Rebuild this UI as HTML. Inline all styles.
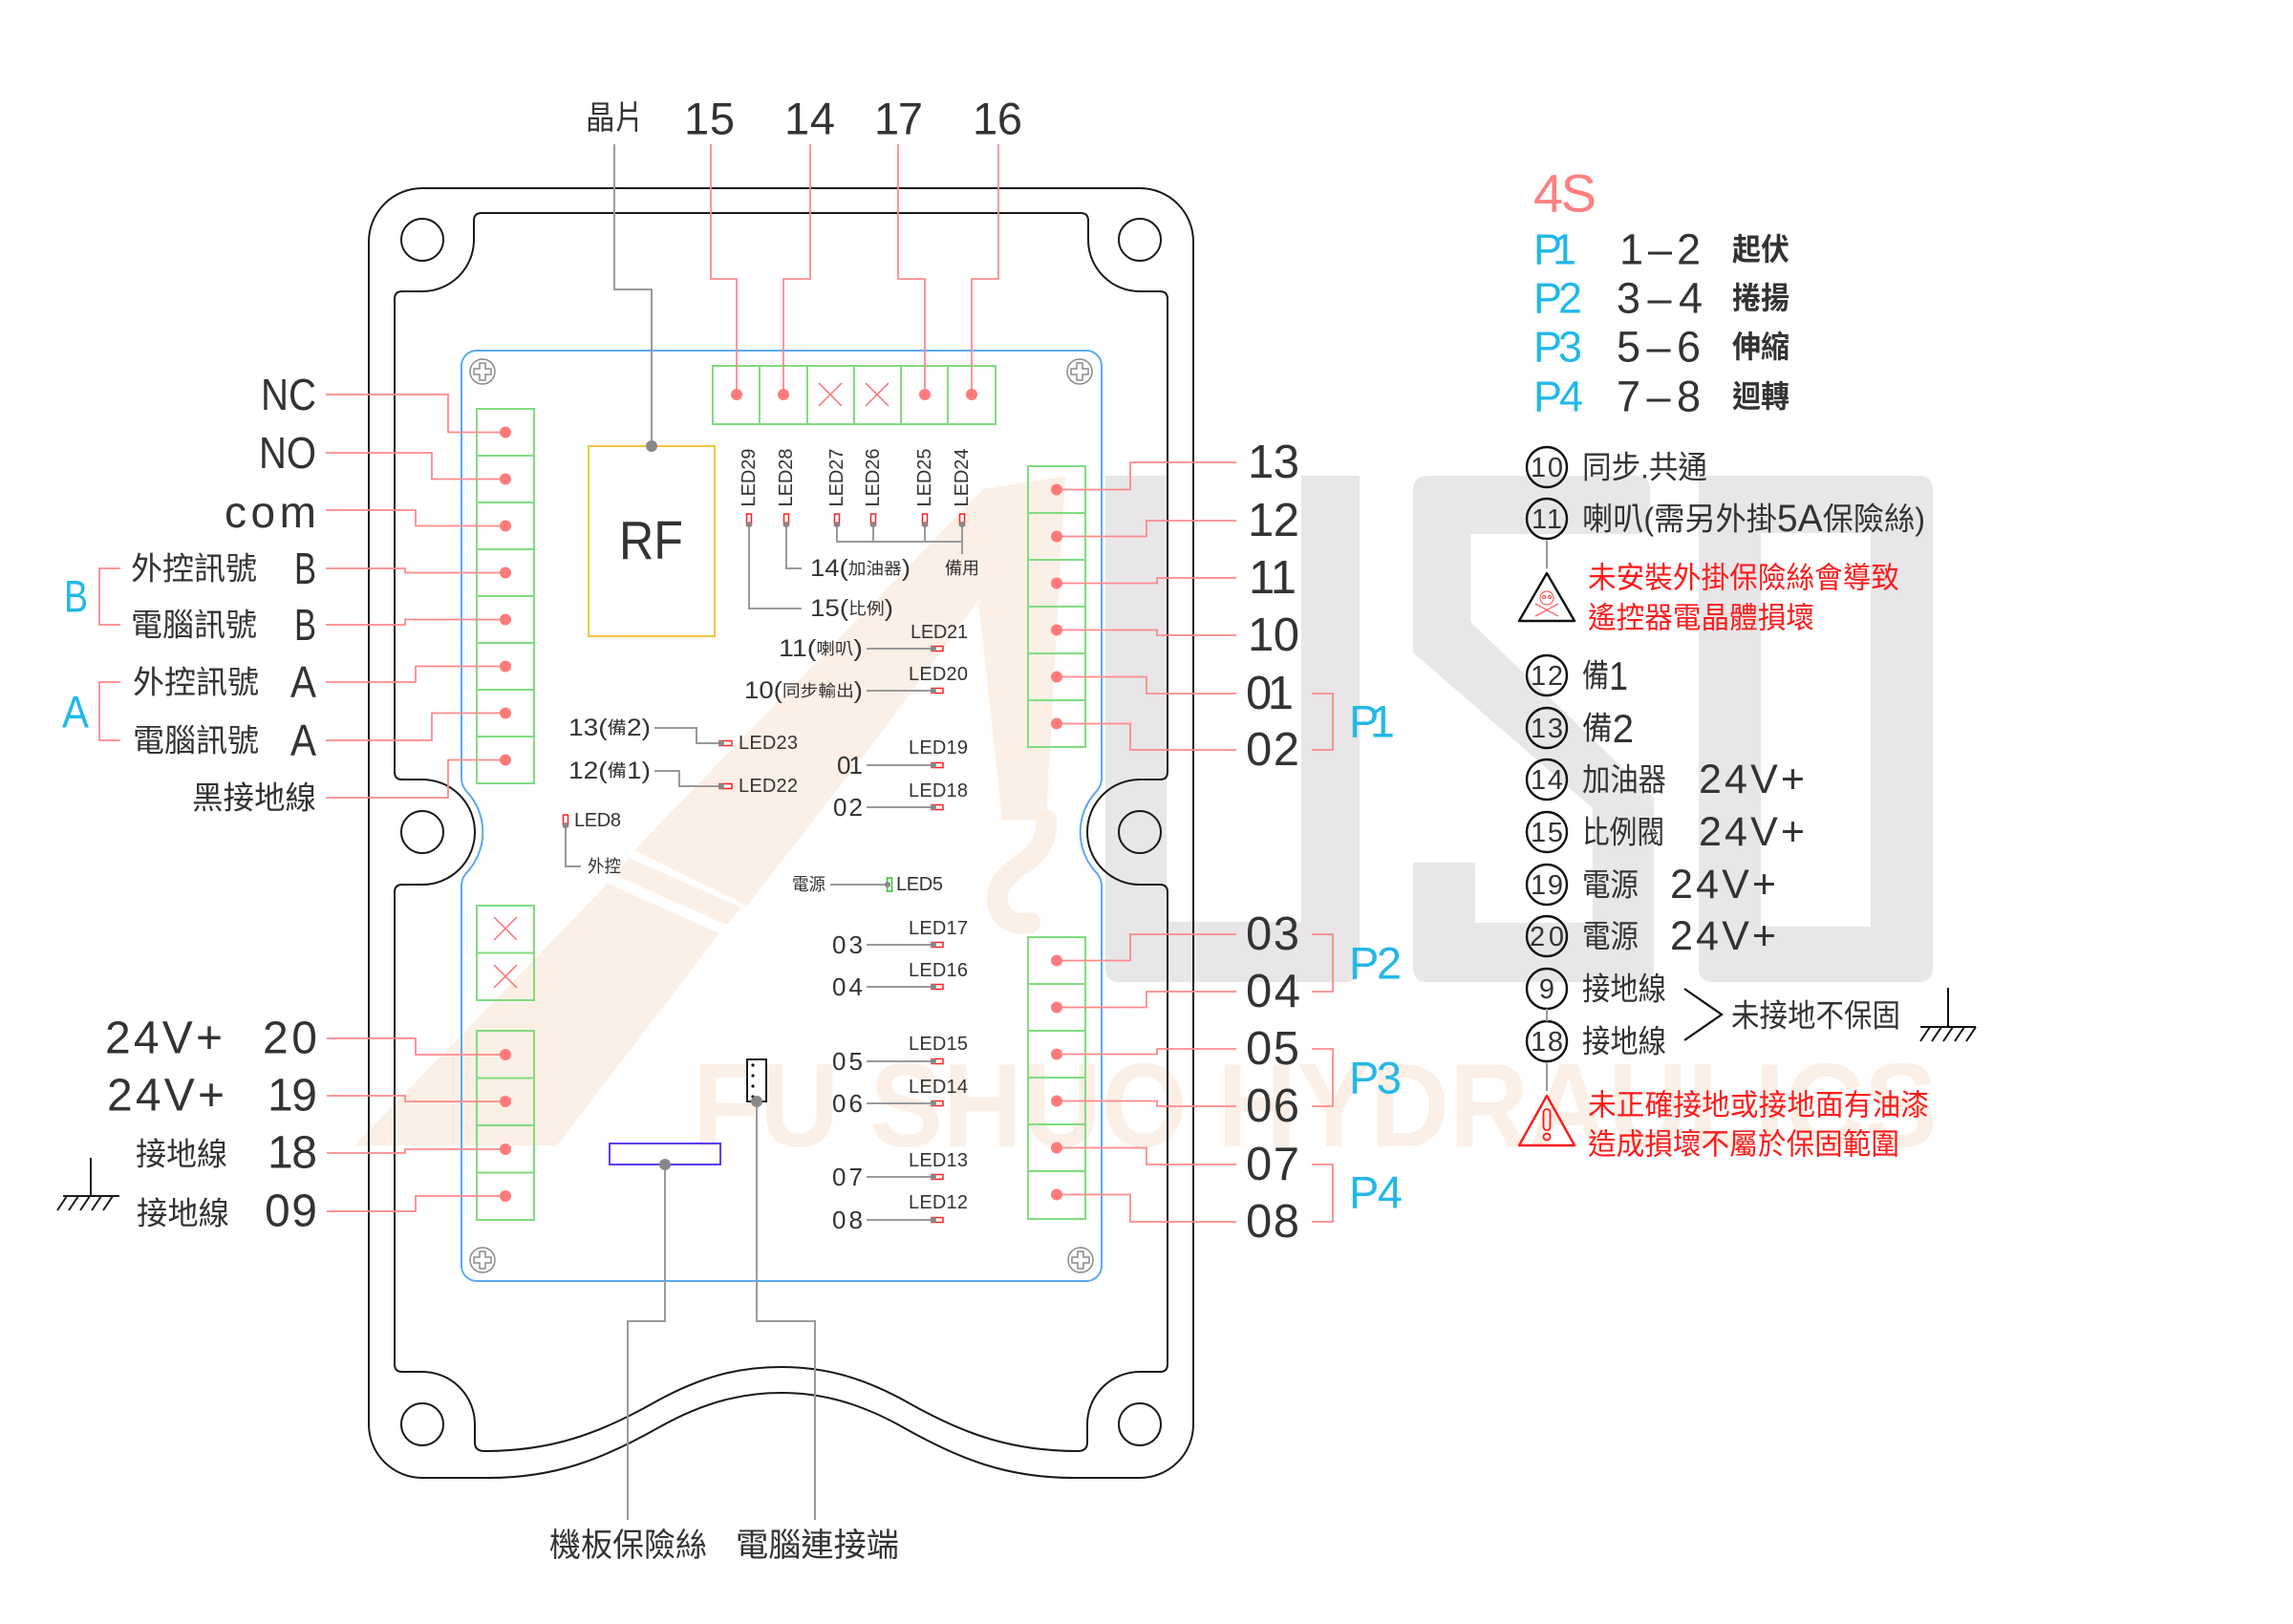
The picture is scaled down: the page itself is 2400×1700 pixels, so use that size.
<!DOCTYPE html>
<html><head><meta charset="utf-8"><style>
html,body{margin:0;padding:0;background:#fff;}
svg{display:block;}
text{font-family:"Liberation Sans","Noto Sans CJK TC",sans-serif;fill:#333;dominant-baseline:central;}
.r{stroke:#ff8a8a;stroke-width:1.8;fill:none;}
.g{stroke:#80dc80;stroke-width:2;fill:none;}
.k{stroke:#1a1a1a;stroke-width:2;fill:none;}
.gy{stroke:#9a9a9a;stroke-width:2;fill:none;}
.dot{fill:#ff7b7b;}
.gd{fill:#888;}
.x{stroke:#ff7070;stroke-width:1.5;}
.led{fill:#fff;stroke:#ff2020;stroke-width:1.5;}
.bl{fill:#22b8e8;}
.red{fill:#ff1a1a;}
</style></head><body>
<svg width="2400" height="1700" viewBox="0 0 2400 1700" xmlns="http://www.w3.org/2000/svg">
<rect width="2400" height="1700" fill="#fff"/>

<!-- gray watermark -->
<g fill="#e8e6e8">
<path d="M1157,498 H1221 V965 H1362 V498 H1423 V1013 Q1423,1028 1408,1028 H1172 Q1157,1028 1157,1013 Z"/>
<path d="M1494,498 H1712 Q1727,498 1727,513 V544 Q1727,559 1712,559 H1539 V651 L1731,835 V1013 Q1731,1028 1716,1028 H1494 Q1479,1028 1479,1013 V903 H1544 V966 H1667 V846 L1479,683 V513 Q1479,498 1494,498 Z"/>
<path fill-rule="evenodd" d="M1778,498 H2008 Q2023,498 2023,513 V1013 Q2023,1028 2008,1028 H1793 Q1778,1028 1778,1013 Z M1843,558 H1958 V970 H1843 Z"/>
</g>

<!-- peach watermark -->
<g fill="#fcefe5">
<polygon points="371,1199 636,925 753,977 583,1199"/>
<polygon points="644,916 760,968 776,950 658,898"/>
<polygon points="664,890 1029,512 1115,498 1095,858 1049,858 1024,629 917,774 782,948"/>
<text x="725" y="1200" font-size="124" font-weight="bold" textLength="1303" lengthAdjust="spacingAndGlyphs" style="fill:#fcefe5;dominant-baseline:alphabetic">FU SHUO HYDRAULICS</text>
</g>
<path d="M1095,858 C1097,900 1062,902 1048,925 C1036,946 1050,972 1078,966" stroke="#fcefe5" stroke-width="22" fill="none" stroke-linecap="round"/>

<!-- outer board -->
<path class="k" d="M442,197 H1193 A56,56 0 0 1 1249,253 V1491 A56,56 0 0 1 1193,1547 H1123 C1055,1547 1005,1528 945,1494 C895,1466 855,1458 817.5,1458 C780,1458 740,1466 690,1494 C630,1528 580,1547 512,1547 H442 A56,56 0 0 1 386,1491 V253 A56,56 0 0 1 442,197 Z"/>
<path class="k" d="M504,223 H1131 Q1139,223 1139,231 V251 A54,54 0 0 0 1193,305 H1214 Q1222,305 1222,313 V808 Q1222,816 1214,816 H1193 A55,55 0 0 0 1193,926 H1214 Q1222,926 1222,934 V1428 Q1222,1436 1214,1436 H1193 A55,55 0 0 0 1138,1491 V1510 Q1138,1519 1128,1519 C1060,1519 1010,1502 950,1468 C900,1440 860,1431 817.5,1431 C775,1431 735,1440 685,1468 C625,1502 575,1519 507,1519 Q497,1519 497,1510 V1491 A55,55 0 0 0 442,1436 H421 Q413,1436 413,1428 V934 Q413,926 421,926 H442 A55,55 0 0 0 442,816 H421 Q413,816 413,808 V313 Q413,305 421,305 H442 A54,54 0 0 0 496,251 V231 Q496,223 504,223 Z"/>
<g class="k">
<circle cx="442" cy="251" r="22"/><circle cx="1193" cy="251" r="22"/>
<circle cx="442" cy="871" r="22"/><circle cx="1193" cy="871" r="22"/>
<circle cx="442" cy="1491" r="22"/><circle cx="1193" cy="1491" r="22"/>
</g>

<!-- blue board -->
<path d="M499,367 H1137 A16,16 0 0 1 1153,383 V815 Q1153,822 1148,828 A62,62 0 0 0 1148,914 Q1153,920 1153,927 V1325 A16,16 0 0 1 1137,1341 H499 A16,16 0 0 1 483,1325 V927 Q483,920 488,914 A62,62 0 0 0 488,828 Q483,822 483,815 V383 A16,16 0 0 1 499,367 Z" fill="none" stroke="#5aa9f5" stroke-width="2"/>
<g fill="none" stroke="#8a8a8a" stroke-width="1.5">
<g transform="translate(505,389)"><circle r="13"/><path d="M-3,-9 h6 v6 h6 v6 h-6 v6 h-6 v-6 h-6 v-6 h6 z"/></g>
<g transform="translate(1130,389)"><circle r="13"/><path d="M-3,-9 h6 v6 h6 v6 h-6 v6 h-6 v-6 h-6 v-6 h6 z"/></g>
<g transform="translate(505,1319)"><circle r="13"/><path d="M-3,-9 h6 v6 h6 v6 h-6 v6 h-6 v-6 h-6 v-6 h6 z"/></g>
<g transform="translate(1131,1319)"><circle r="13"/><path d="M-3,-9 h6 v6 h6 v6 h-6 v6 h-6 v-6 h-6 v-6 h6 z"/></g>
</g>

<!-- green connectors -->
<g class="g">
<rect x="499" y="428" width="60" height="392"/>
<path d="M499,477H559M499,526H559M499,575H559M499,624H559M499,673H559M499,722H559M499,771H559"/>
<rect x="499" y="948" width="60" height="99"/><path d="M499,997.5H559"/>
<rect x="499" y="1079" width="60" height="198"/><path d="M499,1128.5H559M499,1178H559M499,1227.5H559"/>
<rect x="746" y="383" width="296" height="61"/><path d="M795,383V444M845,383V444M894,383V444M943,383V444M992,383V444"/>
<rect x="1076" y="488" width="60" height="294"/><path d="M1076,537H1136M1076,586H1136M1076,635H1136M1076,684H1136M1076,733H1136"/>
<rect x="1076" y="981" width="60" height="295"/><path d="M1076,1030H1136M1076,1079H1136M1076,1128H1136M1076,1177H1136M1076,1226H1136"/>
</g>
<g class="x">
<path d="M517,960L541,984M541,960L517,984M517,1010L541,1034M541,1010L517,1034"/>
<path d="M857,401L881,425M881,401L857,425M906,401L930,425M930,401L906,425"/>
</g>

<!-- RF and parts -->
<rect x="616" y="467" width="132" height="199" fill="none" stroke="#f5c542" stroke-width="2"/>
<text x="648" y="566" font-size="57" textLength="67" lengthAdjust="spacingAndGlyphs">RF</text>
<rect x="638" y="1197" width="116" height="22" fill="none" stroke="#5a3cf0" stroke-width="2"/>
<rect x="782" y="1109" width="20" height="44" fill="#fff" stroke="#1a1a1a" stroke-width="2"/>
<g fill="#111"><circle cx="788" cy="1115" r="1.6"/><circle cx="788" cy="1126" r="1.6"/><circle cx="788" cy="1137" r="1.6"/><circle cx="788" cy="1148" r="1.6"/></g>

<!-- gray connector lines -->
<g class="gy">
<path d="M643,151V303H682V467"/>
<path d="M696,1219V1383H657V1591"/>
<path d="M792,1153V1383H853V1591"/>
<path d="M784,550V637H839"/>
<path d="M823,550V595H839"/>
<path d="M876,550V567H1007M914,550V567M968,550V567M1007,550V580"/>
<path d="M907,679H978M907,723H978M907,801H978M907,845H978M907,989H978M907,1033H978M907,1111H978M907,1155H978M907,1232H978M907,1277H978"/>
<path d="M685,762H729V778H756M685,807H711V823H756"/>
<path d="M592,865V907H608"/>
<path d="M869,926H928"/>
</g>
<g class="gd">
<circle cx="682" cy="467" r="6"/><circle cx="696" cy="1219" r="6"/><circle cx="792" cy="1153" r="6"/>
</g>

<!-- LEDs -->
<g class="led">
<rect x="781.5" y="538" width="5" height="12"/><rect x="820.5" y="538" width="5" height="12"/>
<rect x="873.5" y="538" width="5" height="12"/><rect x="911.5" y="538" width="5" height="12"/>
<rect x="965.5" y="538" width="5" height="12"/><rect x="1004.5" y="538" width="5" height="12"/>
<rect x="589.5" y="853" width="5" height="12"/>
<rect x="975" y="676.5" width="12" height="5"/><rect x="975" y="720.5" width="12" height="5"/>
<rect x="975" y="798.5" width="12" height="5"/><rect x="975" y="842.5" width="12" height="5"/>
<rect x="975" y="986.5" width="12" height="5"/><rect x="975" y="1030.5" width="12" height="5"/>
<rect x="975" y="1108.5" width="12" height="5"/><rect x="975" y="1152.5" width="12" height="5"/>
<rect x="975" y="1229.5" width="12" height="5"/><rect x="975" y="1274.5" width="12" height="5"/>
<rect x="753" y="775.5" width="13" height="5"/><rect x="753" y="820.5" width="13" height="5"/>
</g>
<rect x="928.5" y="919" width="5" height="14" fill="#fff" stroke="#22cc22" stroke-width="1.5"/>
<g class="gd">
<circle cx="784" cy="549" r="3"/><circle cx="823" cy="549" r="3"/><circle cx="876" cy="549" r="3"/><circle cx="914" cy="549" r="3"/><circle cx="968" cy="549" r="3"/><circle cx="1007" cy="549" r="3"/>
<circle cx="592" cy="864" r="3"/>
<circle cx="977" cy="679" r="3"/><circle cx="977" cy="723" r="3"/><circle cx="977" cy="801" r="3"/><circle cx="977" cy="845" r="3"/><circle cx="977" cy="989" r="3"/><circle cx="977" cy="1033" r="3"/><circle cx="977" cy="1111" r="3"/><circle cx="977" cy="1155" r="3"/><circle cx="977" cy="1232" r="3"/><circle cx="977" cy="1277" r="3"/>
<circle cx="755" cy="778" r="3"/><circle cx="755" cy="823" r="3"/><circle cx="929" cy="926" r="3"/>
</g>

<!-- LED labels -->
<g font-size="20">
<text transform="translate(784,500) rotate(-90)" text-anchor="middle" textLength="61" lengthAdjust="spacingAndGlyphs">LED29</text>
<text transform="translate(823,500) rotate(-90)" text-anchor="middle" textLength="61" lengthAdjust="spacingAndGlyphs">LED28</text>
<text transform="translate(876,500) rotate(-90)" text-anchor="middle" textLength="61" lengthAdjust="spacingAndGlyphs">LED27</text>
<text transform="translate(914,500) rotate(-90)" text-anchor="middle" textLength="61" lengthAdjust="spacingAndGlyphs">LED26</text>
<text transform="translate(968,500) rotate(-90)" text-anchor="middle" textLength="61" lengthAdjust="spacingAndGlyphs">LED25</text>
<text transform="translate(1007,500) rotate(-90)" text-anchor="middle" textLength="61" lengthAdjust="spacingAndGlyphs">LED24</text>
<text x="953" y="662" textLength="60">LED21</text>
<text x="951" y="706" textLength="62">LED20</text>
<text x="951" y="783" textLength="62">LED19</text>
<text x="951" y="828" textLength="62">LED18</text>
<text x="951" y="972" textLength="62">LED17</text>
<text x="951" y="1016" textLength="62">LED16</text>
<text x="951" y="1093" textLength="62">LED15</text>
<text x="951" y="1138" textLength="62">LED14</text>
<text x="951" y="1215" textLength="62">LED13</text>
<text x="951" y="1259" textLength="62">LED12</text>
<text x="773" y="778" textLength="62">LED23</text>
<text x="773" y="823" textLength="62">LED22</text>
<text x="601" y="859" textLength="49">LED8</text>
<text x="938" y="926" textLength="49">LED5</text>
</g>

<!-- board function labels -->
<text x="848" y="595" font-size="25" textLength="105" lengthAdjust="spacingAndGlyphs">14(<tspan font-size="17">加油器</tspan>)</text>
<text x="848" y="637" font-size="25" textLength="87" lengthAdjust="spacingAndGlyphs">15(<tspan font-size="17">比例</tspan>)</text>
<text x="989" y="595" font-size="18" textLength="36" lengthAdjust="spacingAndGlyphs">備用</text>
<text x="815" y="679" font-size="25" textLength="88" lengthAdjust="spacingAndGlyphs">11(<tspan font-size="17">喇叭</tspan>)</text>
<text x="779" y="723" font-size="25" textLength="124" lengthAdjust="spacingAndGlyphs">10(<tspan font-size="17">同步輸出</tspan>)</text>
<text x="595" y="762" font-size="25" textLength="86" lengthAdjust="spacingAndGlyphs">13(<tspan font-size="18">備</tspan>2)</text>
<text x="595" y="807" font-size="25" textLength="86" lengthAdjust="spacingAndGlyphs">12(<tspan font-size="18">備</tspan>1)</text>
<text x="615" y="907" font-size="18" textLength="35" lengthAdjust="spacingAndGlyphs">外控</text>
<text x="829" y="926" font-size="18" textLength="35" lengthAdjust="spacingAndGlyphs">電源</text>
<g font-size="26" text-anchor="end">
<text x="903" y="801" textLength="27">01</text><text x="903" y="845" textLength="31">02</text>
<text x="903" y="989" textLength="32">03</text><text x="903" y="1033" textLength="32">04</text>
<text x="903" y="1111" textLength="32">05</text><text x="903" y="1155" textLength="32">06</text>
<text x="903" y="1232" textLength="32">07</text><text x="903" y="1277" textLength="32">08</text>
</g>

<!-- top labels and wires -->
<text x="613" y="124" font-size="34" textLength="61" lengthAdjust="spacingAndGlyphs">晶片</text>
<g font-size="47">
<text x="716" y="124" textLength="53">15</text>
<text x="821" y="124" textLength="53">14</text>
<text x="915" y="124" textLength="51">17</text>
<text x="1018" y="124" textLength="52">16</text>
</g>
<g class="r">
<path d="M744,151V292H771V413M848,151V292H820V413M940,151V292H968V413M1045,151V292H1017V413"/>
</g>
<g class="dot"><circle cx="771" cy="413" r="6"/><circle cx="820" cy="413" r="6"/><circle cx="968" cy="413" r="6"/><circle cx="1017" cy="413" r="6"/></g>

<!-- left labels -->
<text x="331" y="413" font-size="46" text-anchor="end" textLength="58" lengthAdjust="spacingAndGlyphs">NC</text>
<text x="331" y="474" font-size="46" text-anchor="end" textLength="60" lengthAdjust="spacingAndGlyphs">NO</text>
<text x="331" y="552" font-size="46" text-anchor="end" textLength="96" style="dominant-baseline:alphabetic">com</text>
<g font-size="33">
<text x="137" y="595" textLength="132" lengthAdjust="spacingAndGlyphs">外控訊號</text>
<text x="137" y="654" textLength="132" lengthAdjust="spacingAndGlyphs">電腦訊號</text>
<text x="139" y="714" textLength="132" lengthAdjust="spacingAndGlyphs">外控訊號</text>
<text x="139" y="775" textLength="132" lengthAdjust="spacingAndGlyphs">電腦訊號</text>
<text x="201" y="835" textLength="130" lengthAdjust="spacingAndGlyphs">黑接地線</text>
</g>
<g font-size="46">
<text x="308" y="595" textLength="23" lengthAdjust="spacingAndGlyphs">B</text>
<text x="308" y="654" textLength="23" lengthAdjust="spacingAndGlyphs">B</text>
<text x="304" y="714" textLength="27" lengthAdjust="spacingAndGlyphs">A</text>
<text x="304" y="775" textLength="27" lengthAdjust="spacingAndGlyphs">A</text>
</g>
<text x="67" y="624" font-size="47" class="bl" textLength="25" lengthAdjust="spacingAndGlyphs">B</text>
<text x="65" y="745" font-size="47" class="bl" textLength="28" lengthAdjust="spacingAndGlyphs">A</text>
<g class="r">
<path d="M126,595H104V654H126M126,714H104V775H126"/>
<path d="M341,413H469V452.5H529M341,474H452V501.5H529M341,534H435V550.5H529M341,595H424V599.5H529M341,654H424V648.5H529M341,714H435V697.5H529M341,775H452V746.5H529M341,835H469V795.5H529"/>
<path d="M342,1087H435V1104H529M342,1147H424V1153H529M342,1207H424V1203H529M342,1268H435V1252H529"/>
</g>
<g class="dot">
<circle cx="529" cy="452.5" r="6"/><circle cx="529" cy="501.5" r="6"/><circle cx="529" cy="550.5" r="6"/><circle cx="529" cy="599.5" r="6"/><circle cx="529" cy="648.5" r="6"/><circle cx="529" cy="697.5" r="6"/><circle cx="529" cy="746.5" r="6"/><circle cx="529" cy="795.5" r="6"/>
<circle cx="529" cy="1104" r="6"/><circle cx="529" cy="1153" r="6"/><circle cx="529" cy="1203" r="6"/><circle cx="529" cy="1252" r="6"/>
</g>

<!-- bottom-left labels -->
<g font-size="48">
<text x="110" y="1087" textLength="123">24V+</text>
<text x="275" y="1087" textLength="57">20</text>
<text x="112" y="1147" textLength="123">24V+</text>
<text x="280" y="1147" textLength="52">19</text>
<text x="280" y="1207" textLength="52">18</text>
<text x="277" y="1268" textLength="55">09</text>
</g>
<g font-size="33">
<text x="142" y="1208" textLength="96" lengthAdjust="spacingAndGlyphs">接地線</text>
<text x="143" y="1270" textLength="97" lengthAdjust="spacingAndGlyphs">接地線</text>
</g>
<path d="M95,1212V1252M66,1252H125M70,1252L60,1267M82,1252L72,1267M94,1252L84,1267M106,1252L96,1267M118,1252L108,1267" stroke="#1a1a1a" stroke-width="2" fill="none"/>

<!-- right wires and labels -->
<g class="r">
<path d="M1106,512.5H1183V484H1294M1106,561.5H1200V545H1294M1106,610.5H1211V605H1294M1106,659.5H1211V665H1294M1106,708.5H1200V726H1294M1106,757.5H1183V785H1294"/>
<path d="M1106,1005.5H1183V978H1294M1106,1054.5H1200V1038H1294M1106,1103.5H1211V1098H1294M1106,1152.5H1211V1158H1294M1106,1201.5H1200V1219H1294M1106,1250.5H1183V1279H1294"/>
<path d="M1373,726H1395V785H1373M1373,978H1395V1038H1373M1373,1098H1395V1158H1373M1373,1219H1395V1279H1373"/>
</g>
<g class="dot">
<circle cx="1106" cy="512.5" r="6"/><circle cx="1106" cy="561.5" r="6"/><circle cx="1106" cy="610.5" r="6"/><circle cx="1106" cy="659.5" r="6"/><circle cx="1106" cy="708.5" r="6"/><circle cx="1106" cy="757.5" r="6"/>
<circle cx="1106" cy="1005.5" r="6"/><circle cx="1106" cy="1054.5" r="6"/><circle cx="1106" cy="1103.5" r="6"/><circle cx="1106" cy="1152.5" r="6"/><circle cx="1106" cy="1201.5" r="6"/><circle cx="1106" cy="1250.5" r="6"/>
</g>
<g font-size="49">
<text x="1306" y="484" textLength="54">13</text>
<text x="1306" y="545" textLength="54">12</text>
<text x="1307" y="605" textLength="50">11</text>
<text x="1306" y="665" textLength="54">10</text>
<text x="1304" y="726" textLength="50">01</text>
<text x="1304" y="785" textLength="56">02</text>
<text x="1304" y="978" textLength="56">03</text>
<text x="1304" y="1038" textLength="57">04</text>
<text x="1304" y="1098" textLength="56">05</text>
<text x="1304" y="1158" textLength="56">06</text>
<text x="1304" y="1219" textLength="56">07</text>
<text x="1304" y="1279" textLength="56">08</text>
</g>
<g font-size="47" class="bl">
<text x="1412" y="755" textLength="48" class="bl">P1</text>
<text x="1412" y="1008" textLength="55" class="bl">P2</text>
<text x="1412" y="1128" textLength="55" class="bl">P3</text>
<text x="1412" y="1248" textLength="56" class="bl">P4</text>
</g>

<!-- bottom labels -->
<text x="575" y="1618" font-size="34" textLength="165" lengthAdjust="spacingAndGlyphs">機板保險絲</text>
<text x="770" y="1618" font-size="34" textLength="171" lengthAdjust="spacingAndGlyphs">電腦連接端</text>

<!-- legend -->
<text x="1605" y="202" font-size="56" textLength="66" style="fill:#ff8080">4S</text>
<g font-size="45">
<text x="1605" y="261" textLength="45" class="bl">P1</text>
<text x="1605" y="312" textLength="51" class="bl">P2</text>
<text x="1605" y="363" textLength="51" class="bl">P3</text>
<text x="1605" y="415" textLength="52" class="bl">P4</text>
<text x="1695" y="261" textLength="85">1–2</text>
<text x="1692" y="312" textLength="90">3–4</text>
<text x="1692" y="363" textLength="88">5–6</text>
<text x="1692" y="415" textLength="88">7–8</text>
</g>
<g font-size="32" font-weight="bold">
<text x="1813" y="261" textLength="60" lengthAdjust="spacingAndGlyphs">起伏</text>
<text x="1813" y="312" textLength="60" lengthAdjust="spacingAndGlyphs">捲揚</text>
<text x="1813" y="363" textLength="60" lengthAdjust="spacingAndGlyphs">伸縮</text>
<text x="1813" y="415" textLength="60" lengthAdjust="spacingAndGlyphs">迴轉</text>
</g>

<g fill="none" stroke="#111" stroke-width="2.4">
<circle cx="1619" cy="489" r="21"/><circle cx="1619" cy="543" r="21"/>
<circle cx="1619" cy="707" r="21"/><circle cx="1619" cy="762" r="21"/>
<circle cx="1619" cy="816" r="21"/><circle cx="1619" cy="871" r="21"/>
<circle cx="1619" cy="926" r="21"/><circle cx="1619" cy="980" r="21"/>
<circle cx="1619" cy="1035" r="21"/><circle cx="1619" cy="1090" r="21"/>
</g>
<g font-size="29" text-anchor="middle">
<text x="1619" y="490" textLength="34">10</text>
<text x="1619" y="544" textLength="32">11</text>
<text x="1619" y="708" textLength="34">12</text>
<text x="1619" y="763" textLength="34">13</text>
<text x="1619" y="817" textLength="34">14</text>
<text x="1619" y="872" textLength="34">15</text>
<text x="1619" y="927" textLength="34">19</text>
<text x="1619" y="981" textLength="36">20</text>
<text x="1619" y="1036">9</text>
<text x="1619" y="1091" textLength="34">18</text>
</g>
<g font-size="33">
<text x="1656" y="489" textLength="131" lengthAdjust="spacingAndGlyphs">同步.共通</text>
<text x="1656" y="543" textLength="359" lengthAdjust="spacingAndGlyphs">喇叭(需另外掛<tspan font-size="40">5A</tspan>保險絲)</text>
<text x="1656" y="707" textLength="48" lengthAdjust="spacingAndGlyphs">備<tspan font-size="42">1</tspan></text>
<text x="1656" y="762" textLength="54" lengthAdjust="spacingAndGlyphs">備<tspan font-size="42">2</tspan></text>
<text x="1656" y="816" textLength="88" lengthAdjust="spacingAndGlyphs">加油器</text>
<text x="1656" y="871" textLength="86" lengthAdjust="spacingAndGlyphs">比例閥</text>
<text x="1656" y="926" textLength="59" lengthAdjust="spacingAndGlyphs">電源</text>
<text x="1656" y="980" textLength="59" lengthAdjust="spacingAndGlyphs">電源</text>
<text x="1656" y="1035" textLength="88" lengthAdjust="spacingAndGlyphs">接地線</text>
<text x="1656" y="1090" textLength="88" lengthAdjust="spacingAndGlyphs">接地線</text>
<text x="1812" y="1063" textLength="177" lengthAdjust="spacingAndGlyphs">未接地不保固</text>
</g>
<g font-size="43">
<text x="1778" y="816" textLength="111">24V+</text>
<text x="1778" y="871" textLength="111">24V+</text>
<text x="1748" y="926" textLength="111">24V+</text>
<text x="1748" y="980" textLength="111">24V+</text>
</g>
<g class="gy">
<path d="M1619,566V595M1619,1056V1069M1619,1112V1142"/>
</g>
<polyline points="1763,1035 1802,1062 1763,1089" fill="none" stroke="#111" stroke-width="2.2"/>
<path d="M2039,1034V1075M2010,1075H2068M2020,1075L2010,1090M2032,1075L2022,1090M2044,1075L2034,1090M2056,1075L2046,1090M2068,1075L2058,1090" stroke="#111" stroke-width="2" fill="none"/>

<!-- warning 1 -->
<polygon points="1619,600 1648,650 1590,650" fill="none" stroke="#111" stroke-width="2.4" stroke-linejoin="round"/>
<g fill="none" stroke="#ff4040" stroke-width="1">
<circle cx="1619" cy="626" r="7"/><circle cx="1616" cy="625" r="1.5"/><circle cx="1622" cy="625" r="1.5"/>
<path d="M1607,632L1631,645M1631,632L1607,645"/>
</g>
<g font-size="31" class="red">
<text x="1662" y="605" textLength="326" lengthAdjust="spacingAndGlyphs" class="red">未安裝外掛保險絲會導致</text>
<text x="1662" y="647" textLength="237" lengthAdjust="spacingAndGlyphs" class="red">遙控器電晶體損壞</text>
</g>

<!-- warning 2 -->
<polygon points="1619,1147 1648,1199 1590,1199" fill="none" stroke="#ff1a1a" stroke-width="2.4" stroke-linejoin="round"/>
<g fill="none" stroke="#ff1a1a" stroke-width="1.8">
<rect x="1615.5" y="1161" width="7" height="22" rx="3.5"/>
<circle cx="1619" cy="1190" r="3.5"/>
</g>
<g font-size="31">
<text x="1662" y="1157" textLength="357" lengthAdjust="spacingAndGlyphs" class="red">未正確接地或接地面有油漆</text>
<text x="1662" y="1198" textLength="326" lengthAdjust="spacingAndGlyphs" class="red">造成損壞不屬於保固範圍</text>
</g>
</svg>
</body></html>
